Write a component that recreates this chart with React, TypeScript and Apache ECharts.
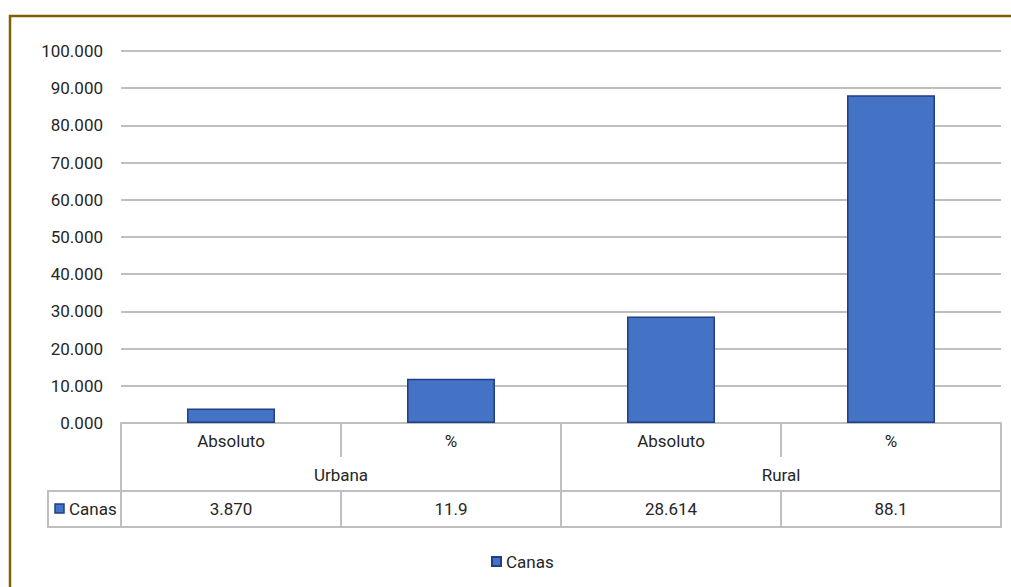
import React, { useEffect, useRef } from "react";
import * as echarts from "echarts";

const subCategories = ["Absoluto", "%", "Absoluto", "%"];
const groups = ["Urbana", "Rural"];
const seriesName = "Canas";
const barValues = [3.87, 11.9, 28.614, 88.1];
const tableLabels = ["3.870", "11.9", "28.614", "88.1"];
const yTicks = { min: 0, max: 100, interval: 10 };

const W = 1011;
const H = 587;
const GRID_LEFT = 121;
const GRID_RIGHT = 10;
const GRID_TOP = 51;
const GRID_BOTTOM = 164;
const ROW1 = 68; // category block height
const ROW2 = 36; // data row height
const KEY_LEFT = 48;

const FONT = "Roboto";
const TXT = "#262626";
const LINE = "#BFBFBF";
const BAR = "#4472C4";
const BAR_EDGE = "#203F85";

export default function App() {
  const ref = useRef<HTMLDivElement>(null);
  useEffect(() => {
    if (!ref.current) return;
    const chart = echarts.init(ref.current, undefined, { renderer: "svg" });
    const axisY = H - GRID_BOTTOM;
    const rowTop = axisY + ROW1;
    const gridRight = W - GRID_RIGHT;
    chart.setOption({
      animation: false,
      backgroundColor: "#ffffff",
      textStyle: { fontFamily: FONT },
      grid: { left: GRID_LEFT, right: GRID_RIGHT, top: GRID_TOP, bottom: GRID_BOTTOM, containLabel: false },
      legend: {
        data: [seriesName],
        top: 548,
        left: 486,
        itemWidth: 9,
        itemHeight: 9,
        icon: "rect",
        itemGap: 6,
        textStyle: { fontFamily: FONT, fontSize: 17, color: TXT },
      },
      yAxis: {
        type: "value",
        min: yTicks.min,
        max: yTicks.max,
        interval: yTicks.interval,
        axisLine: { show: false },
        axisTick: { show: false },
        axisLabel: {
          margin: 18,
          fontSize: 17,
          color: TXT,
          fontFamily: FONT,
          formatter: (v: number) => v.toFixed(3),
        },
        splitLine: { lineStyle: { color: LINE, width: 2 } },
      },
      xAxis: [
        {
          type: "category",
          data: subCategories,
          position: "bottom",
          axisLine: { show: true, lineStyle: { color: LINE, width: 2 } },
          axisTick: { show: true, length: 34, lineStyle: { color: LINE, width: 2 } },
          axisLabel: { margin: 9, fontSize: 17, color: TXT, fontFamily: FONT },
        },
        {
          type: "category",
          data: groups,
          position: "bottom",
          offset: 0,
          axisLine: { show: false },
          axisTick: { show: true, length: ROW1, lineStyle: { color: LINE, width: 2 } },
          axisLabel: { margin: 43, fontSize: 17, color: TXT, fontFamily: FONT },
        },
        {
          type: "category",
          data: tableLabels,
          position: "bottom",
          offset: ROW1,
          axisLine: { show: false },
          axisTick: { show: true, length: ROW2, lineStyle: { color: LINE, width: 2 } },
          axisLabel: { margin: 9, fontSize: 17, color: TXT, fontFamily: FONT },
        },
      ],
      series: [
        {
          name: seriesName,
          type: "bar",
          xAxisIndex: 0,
          data: barValues,
          barWidth: "40%",
          itemStyle: { color: BAR, borderColor: BAR_EDGE, borderWidth: 1.5 },
        },
      ],
      graphic: [
        {
          type: "rect",
          shape: { x: KEY_LEFT, y: rowTop, width: gridRight - KEY_LEFT, height: ROW2 },
          style: { fill: "none", stroke: LINE, lineWidth: 2 },
          silent: true,
        },
        {
          type: "rect",
          shape: { x: 55, y: rowTop + 13, width: 9, height: 9 },
          style: { fill: BAR, stroke: BAR_EDGE, lineWidth: 1.5 },
          silent: true,
        },
        {
          type: "text",
          x: 69,
          y: rowTop + ROW2 / 2,
          style: { text: seriesName, fontFamily: FONT, fontSize: 17, fill: TXT, verticalAlign: "middle" },
          silent: true,
        },
        {
          type: "polyline",
          shape: { points: [[W, 16], [10, 16], [10, H]] },
          style: { stroke: "#7F6000", lineWidth: 2.5, fill: "none" },
          silent: true,
        },
      ],
    });
    return () => chart.dispose();
  }, []);
  return (
    <div
      ref={ref}
      style={{ position: "absolute", left: 0, top: 0, width: W, height: H }}
    />
  );
}
